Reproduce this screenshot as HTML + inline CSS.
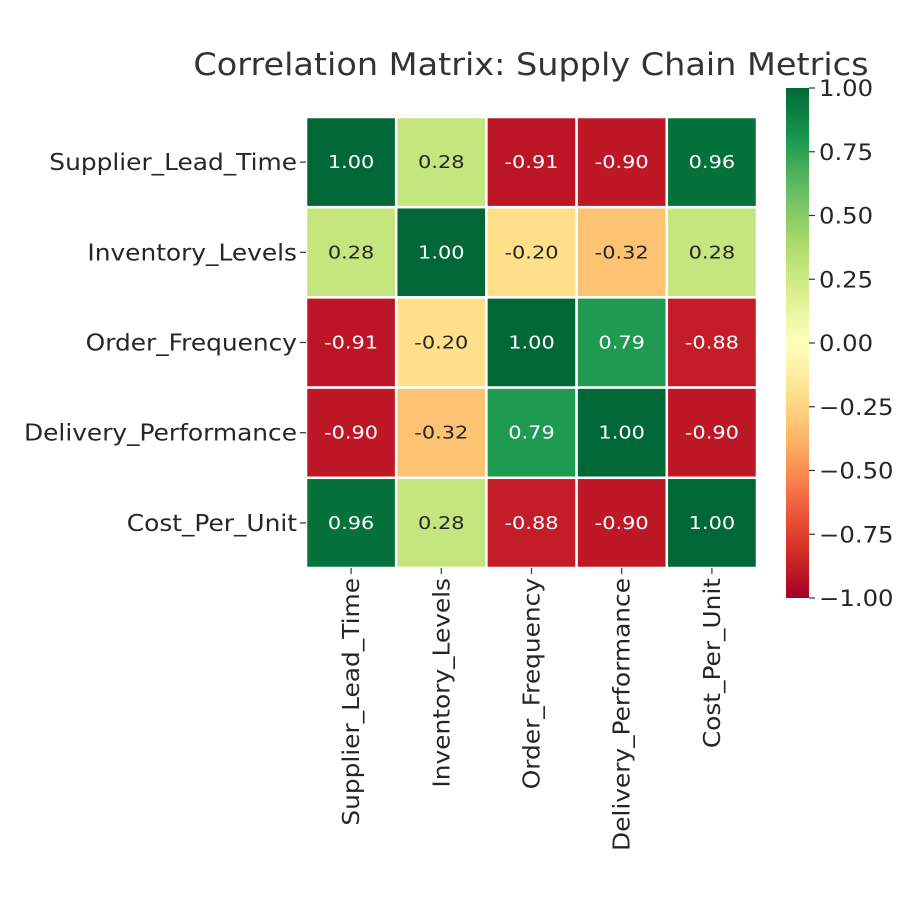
<!DOCTYPE html>
<html><head><meta charset="utf-8">
<style>
html,body{margin:0;padding:0;background:#fff;}
svg text{font-family:"DejaVu Sans","Liberation Sans",sans-serif;}
</style></head>
<body>
<svg id="chart" width="900" height="900" viewBox="0 0 900 900" xmlns="http://www.w3.org/2000/svg">
<rect width="900" height="900" fill="#fff"/>
<text id="title" x="531" y="75" font-size="31" fill="#333" text-anchor="middle">Correlation Matrix: Supply Chain Metrics</text>
<g id="cells"></g>
<g id="ylabels"></g>
<g id="xlabels"></g>
<defs>
<linearGradient id="cbgrad" x1="0" y1="1" x2="0" y2="0">
<stop offset="0" stop-color="#a50026"/><stop offset="0.1" stop-color="#d73027"/>
<stop offset="0.2" stop-color="#f46d43"/><stop offset="0.3" stop-color="#fdae61"/>
<stop offset="0.4" stop-color="#fee08b"/><stop offset="0.5" stop-color="#ffffbf"/>
<stop offset="0.6" stop-color="#d9ef8b"/><stop offset="0.7" stop-color="#a6d96a"/>
<stop offset="0.8" stop-color="#66bd63"/><stop offset="0.9" stop-color="#1a9850"/>
<stop offset="1" stop-color="#006837"/>
</linearGradient>
</defs>
<rect x="786" y="88" width="23" height="510" fill="url(#cbgrad)"/>
<g id="cbticks"></g>
</svg>
<script>
const labels = ["Supplier_Lead_Time","Inventory_Levels","Order_Frequency","Delivery_Performance","Cost_Per_Unit"];
const matrix = [
 [1.00, 0.28, -0.91, -0.90, 0.96],
 [0.28, 1.00, -0.20, -0.32, 0.28],
 [-0.91, -0.20, 1.00, 0.79, -0.88],
 [-0.90, -0.32, 0.79, 1.00, -0.90],
 [0.96, 0.28, -0.88, -0.90, 1.00]
];
const cbTicks = [1.00, 0.75, 0.50, 0.25, 0.00, -0.25, -0.50, -0.75, -1.00];

const NS = "http://www.w3.org/2000/svg";
const stops = ["#a50026","#d73027","#f46d43","#fdae61","#fee08b","#ffffbf","#d9ef8b","#a6d96a","#66bd63","#1a9850","#006837"];
function hex(h){return [1,3,5].map(i=>parseInt(h.substr(i,2),16));}
function cmap(v){
  let t=(v+1)/2*10; t=Math.max(0,Math.min(10,t));
  const i=Math.min(9,Math.floor(t)), f=t-i;
  const a=hex(stops[i]), b=hex(stops[i+1]);
  const c=a.map((x,k)=>Math.round(x+(b[k]-x)*f));
  return {css:`rgb(${c[0]},${c[1]},${c[2]})`, lum:(0.299*c[0]+0.587*c[1]+0.114*c[2])};
}
function stretch(el,factor){
  try{const w=el.getComputedTextLength(); if(w>0){el.setAttribute('textLength',(w*factor).toFixed(1));el.setAttribute('lengthAdjust','spacingAndGlyphs');}}catch(e){}
}
const x0=306, y0=117, cw=90.2, ch=90.2;
const xPos=j=>x0+j*cw, yPos=i=>y0+i*ch;
const cells=document.getElementById('cells');
stretch(document.getElementById('title'),1.08);
matrix.forEach((row,i)=>row.forEach((v,j)=>{
  const col=cmap(v);
  const r=document.createElementNS(NS,'rect');
  r.setAttribute('x',xPos(j)); r.setAttribute('y',yPos(i));
  r.setAttribute('width',cw); r.setAttribute('height',ch);
  r.setAttribute('fill',col.css); r.setAttribute('stroke','#fff'); r.setAttribute('stroke-width','2.5');
  
  
  cells.appendChild(r);
  const t=document.createElementNS(NS,'text');
  t.setAttribute('x',xPos(j)+cw/2); t.setAttribute('y',yPos(i)+ch/2+6);
  t.setAttribute('text-anchor','middle'); t.setAttribute('font-size','18');
  t.setAttribute('fill', col.lum<140?'#fff':'#262626');
  t.textContent=v.toFixed(2);
  
  
  cells.appendChild(t);
  stretch(t,1.16);
}));
const yl=document.getElementById('ylabels'), xl=document.getElementById('xlabels');
labels.forEach((lab,i)=>{
  const cy=yPos(i)+ch/2;
  const tk=document.createElementNS(NS,'line');
  tk.setAttribute('x1',300); tk.setAttribute('x2',306); tk.setAttribute('y1',cy); tk.setAttribute('y2',cy);
  tk.setAttribute('stroke','#333'); tk.setAttribute('stroke-width','1.2');
  
  
  yl.appendChild(tk);
  const t=document.createElementNS(NS,'text');
  t.setAttribute('x',297); t.setAttribute('y',cy+8); t.setAttribute('text-anchor','end');
  t.setAttribute('font-size','23'); t.setAttribute('fill','#262626'); t.textContent=lab;
  
  
  yl.appendChild(t);
  stretch(t,1.08);
  const cx=xPos(i)+cw/2;
  const xk=document.createElementNS(NS,'line');
  xk.setAttribute('x1',cx); xk.setAttribute('x2',cx); xk.setAttribute('y1',568); xk.setAttribute('y2',574);
  xk.setAttribute('stroke','#333'); xk.setAttribute('stroke-width','1.2');
  
  
  xl.appendChild(xk);
  const xt=document.createElementNS(NS,'text');
  xt.setAttribute('transform',`translate(${cx+8},578) rotate(-90)`);
  xt.setAttribute('text-anchor','end'); xt.setAttribute('font-size','23'); xt.setAttribute('fill','#262626');
  xt.textContent=lab;
  
  
  xl.appendChild(xt);
  stretch(xt,1.08);
});
const cb=document.getElementById('cbticks');
const cbY=v=>88+(1-v)/2*510;
cbTicks.forEach(v=>{
  const y=cbY(v);
  const l=document.createElementNS(NS,'line');
  l.setAttribute('x1',809); l.setAttribute('x2',815); l.setAttribute('y1',y); l.setAttribute('y2',y);
  l.setAttribute('stroke','#333'); l.setAttribute('stroke-width','1.2');
  
  
  cb.appendChild(l);
  const t=document.createElementNS(NS,'text');
  t.setAttribute('x',819); t.setAttribute('y',y+8); t.setAttribute('font-size','22'); t.setAttribute('fill','#262626');
  t.textContent=(v<0?'\u2212':'')+Math.abs(v).toFixed(2);
  
  
  cb.appendChild(t);
  stretch(t,1.105);
});
</script>
</body></html>
